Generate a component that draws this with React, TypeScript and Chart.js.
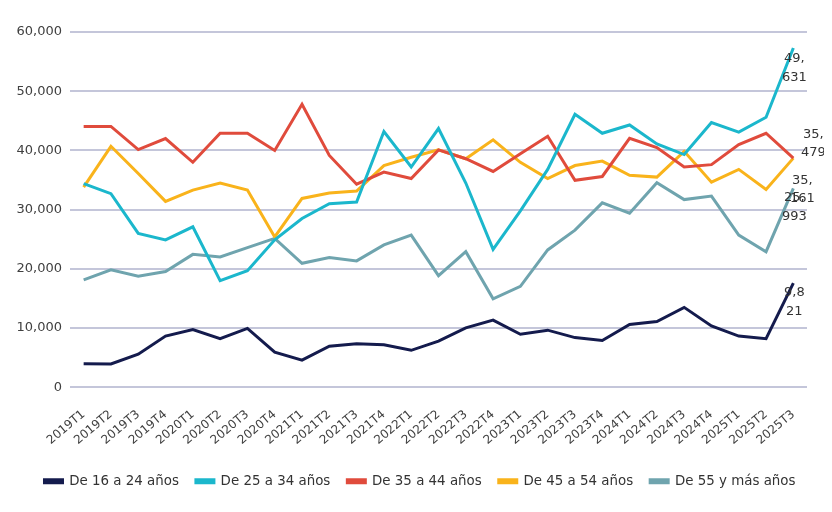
import React, { useEffect, useRef } from "react";
import { Chart, registerables } from "chart.js";

Chart.register(...registerables);

const categories = [
  "2019T1", "2019T2", "2019T3", "2019T4",
  "2020T1", "2020T2", "2020T3", "2020T4",
  "2021T1", "2021T2", "2021T3", "2021T4",
  "2022T1", "2022T2", "2022T3", "2022T4",
  "2023T1", "2023T2", "2023T3", "2023T4",
  "2024T1", "2024T2", "2024T3", "2024T4",
  "2025T1", "2025T2", "2025T3",
];

const seriesNames = [
  "De 16 a 24 años",
  "De 25 a 34 años",
  "De 35 a 44 años",
  "De 45 a 54 años",
  "De 55 y más años",
];

const age16to24 = [4000, 3950, 5600, 8650, 9750, 8200, 9950, 5950, 4600, 6950, 7350, 7200, 6250, 7800, 10050, 11350, 8950, 9650, 8400, 7900, 10600, 11100, 13500, 10350, 8650, 8200, 17600];
const age25to34 = [34400, 32700, 26000, 24900, 27100, 18000, 19700, 24900, 28500, 31000, 31300, 43200, 37200, 43700, 34500, 23300, 29800, 36800, 46100, 42900, 44300, 41100, 39300, 44700, 43100, 45600, 57300];
const age35to44 = [44050, 44050, 40150, 42000, 38000, 42900, 42900, 40000, 47800, 39150, 34300, 36350, 35250, 40100, 38600, 36450, 39450, 42400, 34950, 35600, 42050, 40500, 37200, 37600, 41000, 42900, 38700];
const age45to54 = [33800, 40700, 36100, 31400, 33300, 34500, 33300, 25400, 31900, 32800, 33150, 37450, 38850, 40100, 38600, 41800, 38000, 35250, 37450, 38200, 35800, 35500, 39850, 34650, 36800, 33400, 38700];
const age55plus = [18150, 19850, 18750, 19550, 22450, 22000, 23600, 25150, 20950, 21900, 21350, 24050, 25700, 18850, 22900, 14950, 17050, 23200, 26550, 31150, 29400, 34550, 31700, 32300, 25700, 22900, 33600];

// end-of-line labels as they appear (wrapped)
const endLabelLines = [
  ["9,8", "21"],
  ["49,", "631"],
  ["35,", "479"],
  ["35,", "161"],
  ["25,", "993"],
];

const seriesValues = [age16to24, age25to34, age35to44, age45to54, age55plus];
const colors = ["#141b4d", "#1bb7cc", "#e04b3c", "#f9b31b", "#6fa4ae"];
const labelOffsets = [
  { dx: 1, dy: 10 },
  { dx: 1, dy: 11 },
  { dx: 20, dy: -24 },
  { dx: 9, dy: 22 },
  { dx: 1, dy: 9.5 },
];

const FONT = "'DejaVu Sans', Verdana, sans-serif";

const endLabelPlugin = {
  id: "endLabels",
  afterDatasetsDraw(chart: any) {
    const ctx = chart.ctx;
    ctx.save();
    ctx.font = `13px ${FONT}`;
    ctx.fillStyle = "#333333";
    ctx.textAlign = "center";
    ctx.textBaseline = "middle";
    chart.data.datasets.forEach((_: any, i: number) => {
      const meta = chart.getDatasetMeta(i);
      const pt = meta.data[meta.data.length - 1];
      if (!pt) return;
      const lines = endLabelLines[i];
      const off = labelOffsets[i];
      lines.forEach((t, k) => {
        ctx.fillText(t, pt.x + off.dx, pt.y + off.dy + k * 18.5);
      });
    });
    ctx.restore();
  },
};

export default function App() {
  const ref = useRef<HTMLCanvasElement | null>(null);
  useEffect(() => {
    if (!ref.current) return;
    const chart = new Chart(ref.current, {
      type: "line",
      data: {
        labels: categories,
        datasets: seriesNames.map((name, i) => ({
          label: name,
          data: seriesValues[i],
          borderColor: colors[i],
          backgroundColor: colors[i],
          borderWidth: 3,
          pointRadius: 0,
          tension: 0,
          fill: false,
        })),
      },
      options: {
        animation: false,
        responsive: true,
        maintainAspectRatio: false,
        layout: { padding: { top: 24, left: 8, right: 0, bottom: 6 } },
        plugins: {
          legend: {
            position: "bottom",
            labels: {
              boxWidth: 18,
              boxHeight: 3,
              padding: 17,
              color: "#333333",
              font: { family: FONT, size: 13.4 },
            },
          },
          tooltip: { enabled: false },
        },
        scales: {
          x: {
            offset: true,
            grid: { display: false },
            border: { display: false },
            afterFit: (s: any) => {
              s.height = s.height - 2;
            },
            ticks: {
              maxRotation: 40,
              minRotation: 40,
              autoSkip: false,
              color: "#404040",
              font: { family: FONT, size: 12 },
              padding: 12,
            },
          },
          y: {
            min: 0,
            max: 60000,
            border: { display: false },
            grid: { color: "#c4c6da", lineWidth: 2, drawTicks: false },
            afterFit: (s: any) => {
              s.width = 54;
            },
            ticks: {
              stepSize: 10000,
              padding: 8,
              color: "#404040",
              font: { family: FONT, size: 13 },
              callback: (v: any) => Number(v).toLocaleString("en-US"),
            },
          },
          yRight: {
            position: "right",
            display: true,
            grid: { display: false, drawOnChartArea: false },
            border: { display: false },
            ticks: { display: false },
            afterFit: (s: any) => {
              s.width = 17;
            },
          },
        },
      },
      plugins: [endLabelPlugin],
    });
    return () => chart.destroy();
  }, []);
  return (
    <div style={{ position: "relative", width: "816px", height: "496px" }}>
      <canvas ref={ref} />
    </div>
  );
}
